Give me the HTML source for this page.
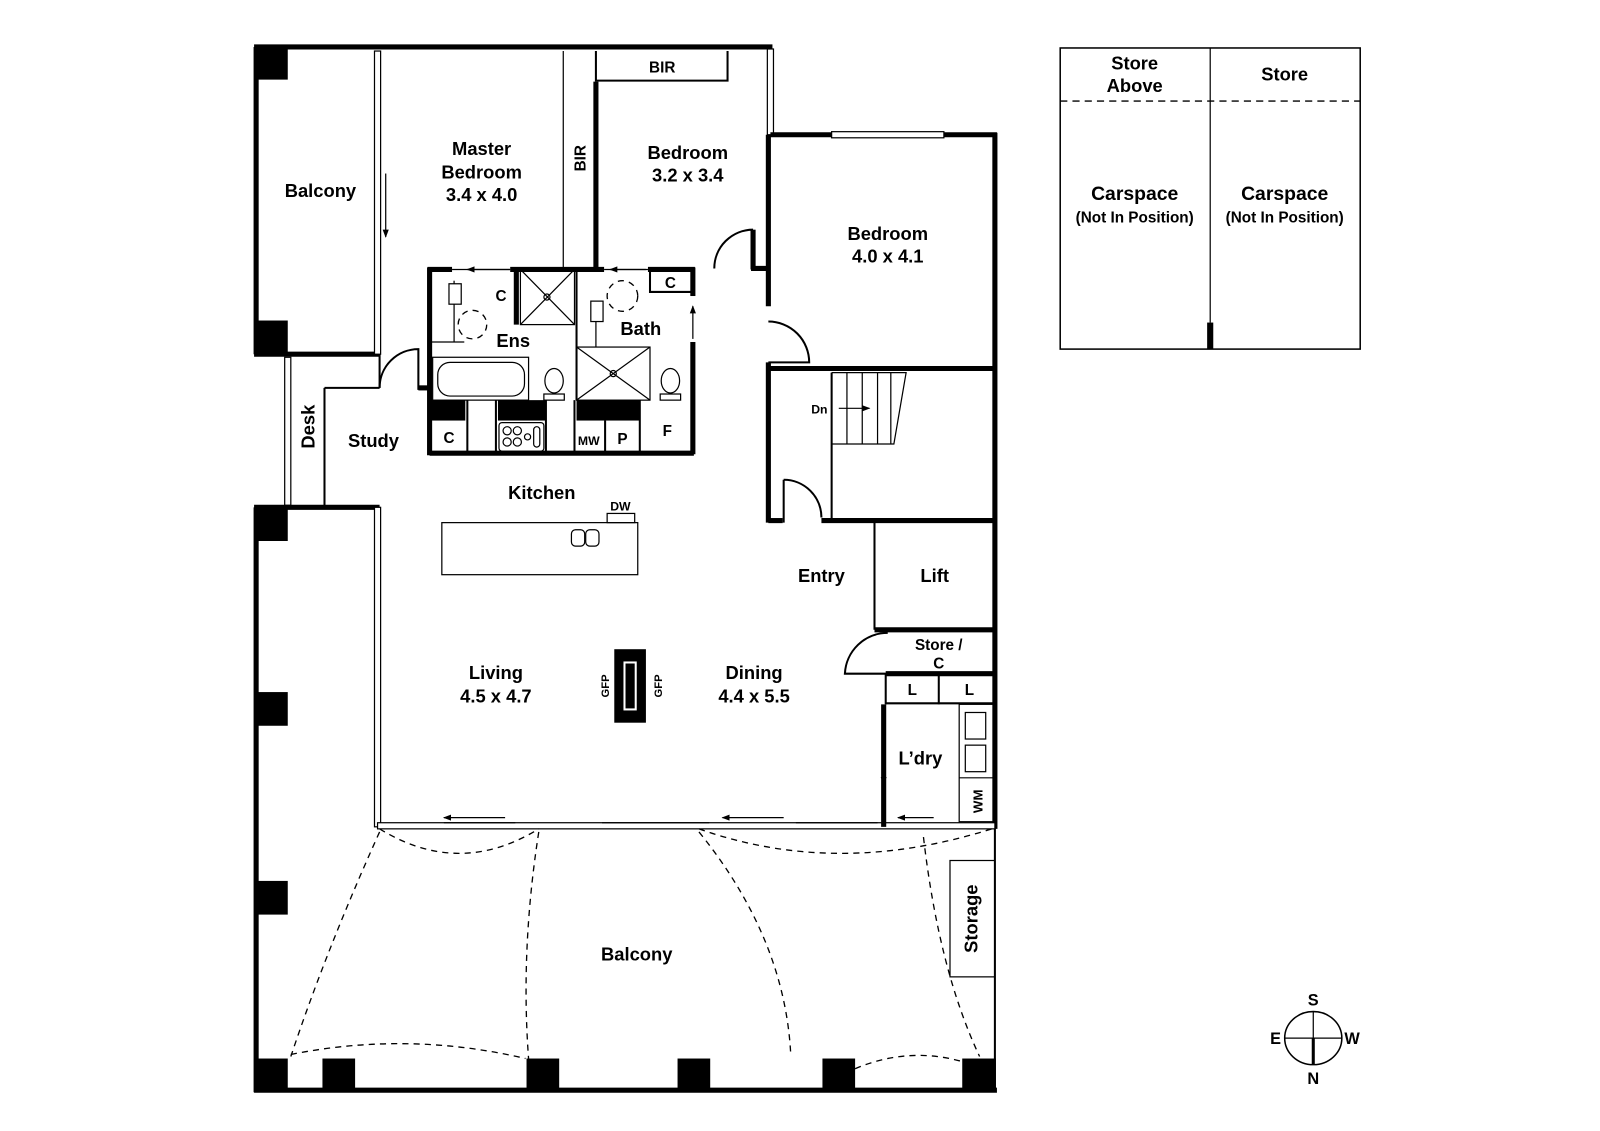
<!DOCTYPE html>
<html><head><meta charset="utf-8"><style>
html,body{margin:0;padding:0;background:#fff;}
svg{display:block}
text{font-family:"Liberation Sans Narrow","Liberation Sans",sans-serif;font-weight:bold;fill:#000;text-anchor:middle}
.w{stroke:#000;stroke-width:5;fill:none}
.t{stroke:#000;stroke-width:2;fill:none}
.h{stroke:#000;stroke-width:1.2;fill:none}
.d{stroke:#000;stroke-width:1.3;fill:none;stroke-dasharray:6 5}
.win{fill:#fff;stroke:#000;stroke-width:1.2}
.b{fill:#000}
.n{font-size:18px}
</style></head><body>
<svg width="1600" height="1131" viewBox="0 0 1568 1108" preserveAspectRatio="none" xmlns="http://www.w3.org/2000/svg">
<defs><marker id="ar" markerWidth="8" markerHeight="8" refX="7" refY="4" orient="auto" markerUnits="userSpaceOnUse"><path d="M0,1 L8,4 L0,7z" fill="#000"/></marker></defs>

<line class="w" x1="249" y1="46" x2="757" y2="46"/>
<line class="w" x1="251" y1="46" x2="251" y2="347"/>
<line class="w" x1="249" y1="347" x2="372" y2="347"/>
<rect class="b" x="249" y="46" width="33" height="32"/>
<rect class="b" x="249" y="314" width="33" height="33"/>
<rect class="win" x="367" y="50" width="6" height="297"/>
<line class="h" x1="378" y1="170" x2="378" y2="232" marker-end="url(#ar)"/>
<rect class="win" x="752" y="48" width="6" height="84"/>
<line class="w" x1="755" y1="132" x2="977" y2="132"/>
<rect class="win" x="815" y="129" width="110" height="6"/>
<line class="w" x1="975" y1="130" x2="975" y2="812"/>
<line class="w" x1="753" y1="132" x2="753" y2="300"/>
<line class="w" x1="738" y1="225" x2="738" y2="264"/>
<line class="w" x1="736" y1="263" x2="755" y2="263"/>
<path class="t" d="M738,225 A38,38 0 0 0 700,263"/>
<path class="t" d="M753,315 A40,40 0 0 1 793,355 L753,355"/>
<line class="w" x1="753" y1="355" x2="753" y2="362"/>
<line class="w" x1="753" y1="361" x2="977" y2="361"/>
<line class="w" x1="753" y1="362" x2="753" y2="512"/>
<line class="w" x1="753" y1="510" x2="767" y2="510"/>
<line class="w" x1="805" y1="510" x2="977" y2="510"/>
<line class="t" x1="768" y1="470" x2="768" y2="512"/>
<path class="t" d="M768,470 A37,37 0 0 1 805,507"/>
<line class="t" x1="815" y1="365" x2="815" y2="508"/>
<path class="h" d="M815,365 L888,365 L876,435 L815,435"/>
<line class="h" x1="830" y1="365" x2="830" y2="435"/><line class="h" x1="845" y1="365" x2="845" y2="435"/><line class="h" x1="860" y1="365" x2="860" y2="435"/><line class="h" x1="873" y1="365" x2="873" y2="435"/>
<line class="h" x1="822" y1="400" x2="852" y2="400" marker-end="url(#ar)"/>
<text x="803" y="405" font-size="12">Dn</text>

<path class="t" d="M584,80 L584,50 M713,50 L713,80 M584,79 L713,79"/>
<line class="h" x1="552" y1="50" x2="552" y2="262"/>
<line class="w" x1="584" y1="80" x2="584" y2="263"/>

<!-- wet areas -->
<line class="w" x1="419" y1="264" x2="443" y2="264"/>
<line class="h" x1="443" y1="264" x2="500" y2="264"/>
<line class="w" x1="500" y1="264" x2="592" y2="264"/>
<line class="h" x1="592" y1="264" x2="635" y2="264"/>
<line class="w" x1="635" y1="264" x2="681" y2="264"/>
<line class="h" x1="500" y1="264" x2="458" y2="264" marker-end="url(#ar)"/>
<line class="h" x1="633" y1="264" x2="598" y2="264" marker-end="url(#ar)"/>
<line class="w" x1="421" y1="262" x2="421" y2="446"/>
<line class="w" x1="421" y1="444" x2="680" y2="444"/>
<rect class="h" x="510" y="264" width="53" height="54"/><path class="h" d="M510,264 L563,318 M563,264 L510,318"/><circle class="h" cx="536" cy="291" r="3"/>
<line class="w" x1="506" y1="266" x2="506" y2="318"/>
<rect class="h" x="565" y="340" width="72" height="52"/><path class="h" d="M565,340 L637,392 M637,340 L565,392"/><circle class="h" cx="601" cy="366" r="3"/>
<line class="t" x1="565" y1="264" x2="565" y2="392"/>
<rect class="h" x="424" y="350" width="94" height="42"/><rect class="h" x="429" y="355" width="85" height="33" rx="12"/>
<line class="h" x1="445" y1="275" x2="445" y2="335"/><rect class="win" x="440" y="278" width="12" height="20"/><line class="h" x1="421" y1="335" x2="455" y2="335"/>
<rect class="win" x="579" y="295" width="12" height="20"/><line class="h" x1="584" y1="315" x2="584" y2="340"/>
<circle class="d" cx="463" cy="318" r="14"/><circle class="d" cx="610" cy="290" r="15"/>
<ellipse class="h" cx="543" cy="373" rx="9" ry="12"/><rect class="h" x="533" y="386" width="20" height="6"/>
<ellipse class="h" cx="657" cy="373" rx="9" ry="12"/><rect class="h" x="647" y="386" width="20" height="6"/>
<path class="t" d="M637,264 L637,286 L677,286"/>
<line class="w" x1="679" y1="262" x2="679" y2="290"/>
<line class="w" x1="679" y1="335" x2="679" y2="445"/>
<line class="h" x1="679" y1="332" x2="679" y2="300" marker-end="url(#ar)"/>
<text x="657" y="282" font-size="15">C</text>
<text x="491" y="295" font-size="15">C</text>
<rect class="b" x="421" y="392" width="35" height="20"/><rect class="b" x="488" y="392" width="47" height="20"/><rect class="b" x="565" y="392" width="62" height="20"/>
<line class="t" x1="458" y1="392" x2="458" y2="444"/><line class="t" x1="486" y1="392" x2="486" y2="444"/><line class="t" x1="535" y1="392" x2="535" y2="444"/><line class="t" x1="563" y1="392" x2="563" y2="444"/><line class="t" x1="593" y1="412" x2="593" y2="444"/><line class="t" x1="627" y1="392" x2="627" y2="444"/>
<rect class="h" x="489" y="414" width="44" height="28" rx="3"/>
<circle class="h" cx="497" cy="422" r="4"/><circle class="h" cx="507" cy="422" r="4"/><circle class="h" cx="497" cy="433" r="4"/><circle class="h" cx="507" cy="433" r="4"/><circle class="h" cx="517" cy="428" r="3"/><rect class="h" x="523" y="418" width="6" height="20" rx="3"/>
<text x="440" y="434" font-size="15">C</text><text x="577" y="436" font-size="12">MW</text><text x="610" y="435" font-size="15">P</text><text x="654" y="427" font-size="15">F</text>

<path class="t" d="M372,347 L372,380 M318,380 L372,380 M318,380 L318,495"/>
<rect class="win" x="279" y="350" width="6" height="145"/>
<path class="t" d="M372,380 A38,38 0 0 1 410,342 L410,382"/>
<line class="w" x1="410" y1="380" x2="421" y2="380"/>

<line class="w" x1="249" y1="497" x2="372" y2="497"/>
<line class="w" x1="251" y1="497" x2="251" y2="1070"/>
<rect class="b" x="249" y="497" width="33" height="33"/>
<rect class="b" x="249" y="678" width="33" height="33"/>
<rect class="b" x="249" y="863" width="33" height="33"/>
<rect class="win" x="367" y="497" width="6" height="313"/>
<line class="w" x1="249" y1="1068" x2="977" y2="1068"/>
<line class="t" x1="975" y1="810" x2="975" y2="1070"/>
<rect class="b" x="249" y="1037" width="33" height="33"/><rect class="b" x="316" y="1037" width="32" height="33"/><rect class="b" x="516" y="1037" width="32" height="33"/><rect class="b" x="664" y="1037" width="32" height="33"/><rect class="b" x="806" y="1037" width="32" height="33"/><rect class="b" x="943" y="1037" width="33" height="33"/>
<rect class="win" x="370" y="806" width="605" height="6"/>
<line class="h" x1="435" y1="806" x2="505" y2="806"/><line class="h" x1="590" y1="806" x2="695" y2="806"/><line class="h" x1="780" y1="806" x2="860" y2="806"/>
<line class="h" x1="495" y1="801" x2="435" y2="801" marker-end="url(#ar)"/>
<line class="h" x1="768" y1="801" x2="708" y2="801" marker-end="url(#ar)"/>
<line class="h" x1="915" y1="801" x2="880" y2="801" marker-end="url(#ar)"/>
<rect class="h" x="433" y="512" width="192" height="51"/>
<rect class="h" x="595" y="503" width="27" height="9"/>
<rect class="h" x="560" y="519" width="13" height="16" rx="4"/><rect class="h" x="574" y="519" width="13" height="16" rx="4"/>
<text x="608" y="500" font-size="12">DW</text>
<rect class="b" x="602" y="636" width="31" height="72"/><rect fill="#fff" x="611" y="648" width="13" height="48"/><rect class="b" x="613" y="650" width="9" height="44"/>
<text font-size="11" transform="translate(597,672) rotate(-90)">GFP</text>
<text font-size="11" transform="translate(649,672) rotate(-90)">GFP</text>
<line class="t" x1="857" y1="512" x2="857" y2="617"/>
<line class="w" x1="857" y1="617" x2="977" y2="617"/>
<path class="t" d="M870,620 A42,42 0 0 0 828,660 L870,660"/>
<line class="w" x1="868" y1="660" x2="977" y2="660"/>
<line class="t" x1="868" y1="660" x2="868" y2="690"/><line class="t" x1="920" y1="660" x2="920" y2="690"/><line class="t" x1="868" y1="689" x2="975" y2="689"/>
<line class="w" x1="866" y1="690" x2="866" y2="810"/>
<line class="h" x1="866" y1="740" x2="866" y2="768" marker-end="url(#ar)"/>
<rect class="h" x="940" y="690" width="35" height="115"/><rect class="h" x="946" y="698" width="20" height="26"/><rect class="h" x="946" y="730" width="20" height="26"/><line class="h" x1="940" y1="762" x2="975" y2="762"/>
<rect class="h" x="931" y="843" width="44" height="114"/>
<text class="n" transform="translate(958,900) rotate(-90)">Storage</text>
<text font-size="13" transform="translate(963,785) rotate(-90)">WM</text>
<path class="d" d="M372,812 Q450,860 528,812"/>
<path class="d" d="M685,812 Q820,860 972,812"/>
<path class="d" d="M372,815 Q320,930 285,1035"/>
<path class="d" d="M528,815 Q510,930 518,1037"/>
<path class="d" d="M685,815 Q770,920 775,1035"/>
<path class="d" d="M905,820 Q920,950 960,1035"/>
<path class="d" d="M285,1033 Q400,1010 515,1037"/>
<path class="d" d="M838,1047 Q890,1025 943,1040"/>

<text class="n" x="314" y="193">Balcony</text>
<text class="n" x="472" y="152">Master</text><text class="n" x="472" y="175">Bedroom</text><text class="n" x="472" y="197">3.4 x 4.0</text>
<text font-size="15" transform="translate(574,155) rotate(-90)">BIR</text>
<text x="649" y="71" font-size="15">BIR</text>
<text class="n" x="674" y="156">Bedroom</text><text class="n" x="674" y="178">3.2 x 3.4</text>
<text class="n" x="870" y="235">Bedroom</text><text class="n" x="870" y="257">4.0 x 4.1</text>
<text class="n" x="503" y="340">Ens</text>
<text class="n" x="628" y="328">Bath</text>
<text class="n" x="366" y="438">Study</text>
<text class="n" transform="translate(308,418) rotate(-90)">Desk</text>
<text class="n" x="531" y="489">Kitchen</text>
<text class="n" x="805" y="570">Entry</text>
<text class="n" x="916" y="570">Lift</text>
<text x="920" y="637" font-size="15">Store /</text><text x="920" y="655" font-size="15">C</text>
<text x="894" y="681" font-size="15">L</text><text x="950" y="681" font-size="15">L</text>
<text class="n" x="902" y="749">L’dry</text>
<text class="n" x="486" y="665">Living</text><text class="n" x="486" y="688">4.5 x 4.7</text>
<text class="n" x="739" y="665">Dining</text><text class="n" x="739" y="688">4.4 x 5.5</text>
<text class="n" x="624" y="941">Balcony</text>

<rect x="1039" y="47" width="294" height="295" fill="none" stroke="#000" stroke-width="1.5"/>
<line class="h" x1="1186" y1="47" x2="1186" y2="316"/><rect class="b" x="1183" y="316" width="6" height="26"/>
<line class="d" x1="1039" y1="99" x2="1333" y2="99" style="stroke-dasharray:7 5"/>
<text x="1112" y="68" font-size="18">Store</text><text x="1112" y="90" font-size="18">Above</text>
<text x="1259" y="79" font-size="18">Store</text>
<text x="1112" y="196" font-size="19">Carspace</text><text x="1112" y="218" font-size="15">(Not In Position)</text>
<text x="1259" y="196" font-size="19">Carspace</text><text x="1259" y="218" font-size="15">(Not In Position)</text>
<ellipse cx="1287" cy="1017" rx="28" ry="26" fill="none" stroke="#000" stroke-width="1.5"/>
<line class="h" x1="1259" y1="1017" x2="1315" y2="1017"/><line class="h" x1="1287" y1="991" x2="1287" y2="1017"/><line x1="1287" y1="1017" x2="1287" y2="1043" stroke="#000" stroke-width="3"/>
<text x="1287" y="985" font-size="16">S</text><text x="1287" y="1062" font-size="16">N</text>
<text x="1250" y="1023" font-size="16">E</text><text x="1325" y="1023" font-size="16">W</text>
</svg>
</body></html>
